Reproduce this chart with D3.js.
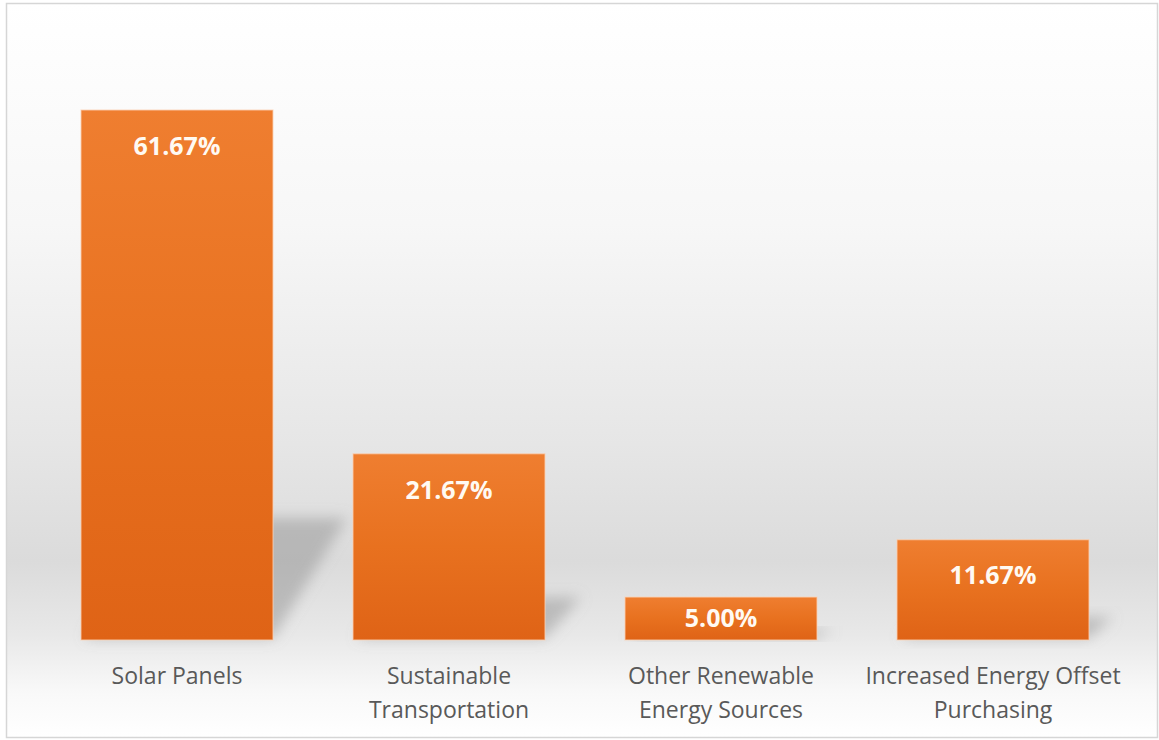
<!DOCTYPE html>
<html><head><meta charset="utf-8">
<script src="https://cdn.jsdelivr.net/npm/d3@7"></script>
<style>body{margin:0;background:#fff}svg{display:block}</style>
</head><body>
<svg id="chart" width="1159" height="740"></svg>
<script>
// ---- data ----
const categories = ["Solar Panels", "Sustainable Transportation", "Other Renewable Energy Sources", "Increased Energy Offset Purchasing"];
const categoryLines = [["Solar Panels"], ["Sustainable", "Transportation"], ["Other Renewable", "Energy Sources"], ["Increased Energy Offset", "Purchasing"]];
const values = [61.67, 21.67, 5.00, 11.67];
const valueLabels = ["61.67%", "21.67%", "5.00%", "11.67%"];
const yDomain = [0, 70];

const svg = d3.select("#chart");
const defs = svg.append("defs");

// background gradient
const bg = defs.append("linearGradient").attr("id", "bg").attr("x1", 0).attr("y1", 0).attr("x2", 0).attr("y2", 1);
[[0, "#ffffff"], [0.3, "#f7f7f7"], [0.6, "#e6e6e6"], [0.76, "#dbdbdb"], [0.86, "#e8e8e8"], [0.94, "#f9f9f9"], [1, "#ffffff"]]
  .forEach(([o, c]) => bg.append("stop").attr("offset", o).attr("stop-color", c));

const barG = defs.append("linearGradient").attr("id", "barg").attr("x1", 0).attr("y1", 0).attr("x2", 0).attr("y2", 1);
[[0, "#ef7e30"], [0.5, "#e8711f"], [1, "#df6316"]]
  .forEach(([o, c]) => barG.append("stop").attr("offset", o).attr("stop-color", c));

const blur = defs.append("filter").attr("id", "blur").attr("x", "-50%").attr("y", "-50%").attr("width", "200%").attr("height", "200%");
blur.append("feGaussianBlur").attr("stdDeviation", 7);

svg.append("rect").attr("x", 6.5).attr("y", 3.5).attr("width", 1151).attr("height", 734)
  .attr("fill", "url(#bg)").attr("stroke", "#d6d6d6").attr("stroke-width", 1.5);

// ---- scales ----
const x = d3.scaleBand().domain(categories).range([41, 1129]).paddingInner(0.294).paddingOuter(0.147);
const y = d3.scaleLinear().domain(yDomain).range([640, 38.4]);

const data = categories.map((c, i) => ({ c, v: values[i], label: valueLabels[i], lines: categoryLines[i] }));

// shadows
svg.append("g").selectAll("polygon").data(data).join("polygon")
  .attr("filter", "url(#blur)")
  .attr("fill", "#8f8f8f").attr("fill-opacity", 0.48)
  .attr("points", d => {
    const x0 = x(d.c), x1 = x(d.c) + x.bandwidth(), b = y(0);
    const h = y(0) - y(d.v);
    const sh = 0.23 * h;
    const dx = Math.min(74, 0.6 * sh + 10);
    return [[x0 + 4, b - 2], [x1, b - 2], [x1 + dx, b - sh], [x0 + dx, b - sh]].map(p => p.join(",")).join(" ");
  });

// bars
svg.append("g").selectAll("rect").data(data).join("rect")
  .attr("x", d => x(d.c)).attr("width", x.bandwidth())
  .attr("y", d => y(d.v)).attr("height", d => y(0) - y(d.v))
  .attr("fill", "url(#barg)")
  .attr("stroke", "#fbd3b6").attr("stroke-opacity", 0.7).attr("stroke-width", 1.2);

// value labels
svg.append("g").selectAll("text").data(data).join("text")
  .attr("x", d => x(d.c) + x.bandwidth() / 2)
  .attr("y", d => Math.min(y(d.v) + 36, (y(d.v) + y(0)) / 2))
  .attr("dy", "0.35em")
  .attr("text-anchor", "middle")
  .attr("font-family", "'Open Sans', 'Noto Sans', sans-serif")
  .attr("font-weight", "bold").attr("font-size", 25)
  .attr("fill", "#fffaf3")
  .text(d => d.label);

// category axis
const axis = svg.append("g").attr("transform", `translate(0,${y(0)})`)
  .call(d3.axisBottom(x).tickSize(0).tickPadding(0));
axis.select(".domain").remove();
axis.selectAll(".tick text").each(function (c) {
  const t = d3.select(this);
  const lines = categoryLines[categories.indexOf(c)];
  t.text(null).attr("y", 0).attr("dy", null)
    .attr("font-family", "'Open Sans', 'Noto Sans', sans-serif")
    .attr("font-size", 23).attr("fill", "#595959");
  lines.forEach((ln, i) => t.append("tspan").attr("x", 0).attr("y", 44 + i * 34).text(ln));
});
</script>
</body></html>
